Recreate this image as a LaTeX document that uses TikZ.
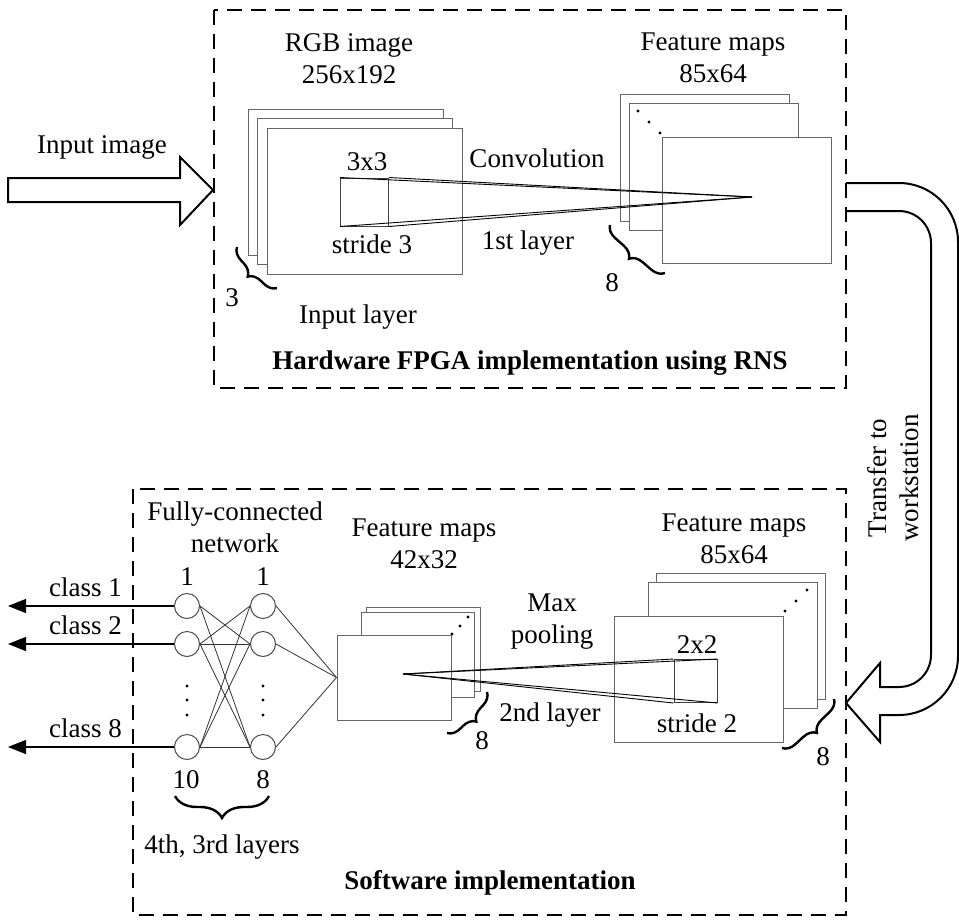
\documentclass[tikz,border=0pt]{standalone}
\usepackage{fontspec}
\setmainfont{Liberation Serif}
\usetikzlibrary{decorations.pathreplacing,arrows.meta}
\tikzset{
  txt/.style={inner sep=0pt,font=\fontsize{27}{32}\selectfont},
  title/.style={inner sep=0pt,font=\fontsize{27}{32}\selectfont\bfseries},
  region/.style={line width=2.2pt,dash pattern=on 15pt off 9pt},
  fmap/.style={draw=black!60,fill=white,line width=1pt},
  front/.style={fmap,rectangle,inner sep=0pt},
  kernel/.style={draw=black!75,line width=1pt,inner sep=0pt,minimum width=#1,minimum height=#1},
  cone/.style={line width=0.9pt},
  neuron/.style={circle,draw=black!70,line width=1pt,minimum size=25pt,inner sep=0pt},
  link/.style={draw=black!80,line width=0.8pt},
  classarrow/.style={line width=1.1pt,-{Triangle[length=18pt,width=14pt]}},
  curly/.style={decorate,decoration={brace,amplitude=#1},line width=2.4pt},
  curly/.default=13pt,
  bigarrow/.style={draw,line width=2pt,line join=miter}
}
\begin{document}
\begin{tikzpicture}[x=1pt,y=-1pt]
\useasboundingbox (0,0) rectangle (959,921);

\draw[region] (214,10) rectangle (846,388);
\draw[region] (133,489) rectangle (846,915);

% hardware part
\draw[bigarrow] (8,178) -- (180,178) -- (180,157) -- (213,190) -- (180,225) -- (180,202) -- (8,202) -- cycle;
\node[txt] (inimg) at (102,147) {Input image};

\foreach \d in {0,9.5} \draw[fmap] (248+\d,109+\d) rectangle +(195,146);
\node[front,minimum width=195,minimum height=146] (rgb) at (364.5,201) {};
\node[kernel=48] (k1) at (364.5,202) {};
\node[txt] (k1size) at (367,162) {3x3};
\node[txt] (k1stride) at (372,244) {stride 3};
\node[txt,align=center] (rgblbl) at (349,59) {RGB image\\256x192};
\node[txt] (inlayer) at (358,317) {Input layer};
\draw[curly] (277,288) -- (237,247);
\node[txt] (n3) at (232,298) {3};

\draw[fmap] (620,94) rectangle +(169,127);
\draw[fmap] (629,103) rectangle +(169,127);
\node[front,minimum width=169,minimum height=126] (fm1) at (746.5,200) {};
\foreach \p in {(638,111),(649,122),(660,133)} \fill \p circle (1.6);

\coordinate (c1) at (752,197);
\foreach \a in {north west,north east,south west,south east} \draw[cone] (k1.\a) -- (c1);

\node[txt] (conv) at (537,158) {Convolution};
\node[txt] (l1) at (528,243) {1st layer};
\node[txt,align=center] (fm1lbl) at (713,58) {Feature maps\\85x64};
\draw[curly] (665,273) -- (610,225);
\node[txt] (n8a) at (612,283) {8};
\node[title] (hw) at (530,363) {Hardware FPGA implementation using RNS};

% transfer
\draw[bigarrow] (846,183) -- (899,183) arc[start angle=-90,end angle=0,radius=59]
  -- (958,656) arc[start angle=0,end angle=90,radius=59]
  -- (880,715) -- (880,742) -- (846,703) -- (880,663) -- (880,687)
  -- (899,687) arc[start angle=90,end angle=0,radius=32]
  -- (931,243) arc[start angle=0,end angle=-90,radius=32] -- (846,211);
\node[txt,rotate=90,align=center] (xfer) at (893,478) {Transfer to\\workstation};

% software part
\node[txt,align=center] (fclbl) at (235,527) {Fully-connected\\network};
\foreach \x/\c in {187/a,263/b} \foreach \y/\r in {606/1,644/2,747/3} \node[neuron] (\c\r) at (\x,\y) {};
\foreach \x in {187,263} \foreach \y in {686,700,715} \fill (\x,\y) circle (1.6);
\node[txt] (top1) at (187,577) {1};
\node[txt] (top2) at (263,577) {1};
\node[txt] (cnt1) at (186,780) {10};
\node[txt] (cnt2) at (263,780) {8};
\foreach \i/\j in {1/2,1/3,2/1,2/2,2/3,3/1,3/2,3/3} \draw[link] (a\i.east) -- (b\j.west);
\foreach \r/\y/\t in {1/606/class 1,2/644/class 2,3/747/class 8} {
  \coordinate (out\r) at (8,\y);
  \draw[classarrow] (a\r.west) -- (out\r);
  \node[txt,anchor=east] (cls\r) at (122,\y-19) {\t};
}
\draw[curly=22pt] (269,796) -- (175,796);
\node[txt] (layers) at (222,847) {4th, 3rd layers};

\draw[fmap] (366,607) rectangle +(114,84);
\draw[fmap] (361,612) rectangle +(113,85);
\node[front,minimum width=114,minimum height=85] (m2) at (394,677.5) {};
\foreach \p in {(468,617),(460,626),(452,634)} \fill \p circle (1.6);
\foreach \i in {1,2,3} \draw[link] (b\i.east) -- (m2.west);
\node[txt,align=center] (fm2lbl) at (424,544) {Feature maps\\42x32};
\draw[curly] (487,692) -- (447,733);
\node[txt] (n8b) at (482,741) {8};

\draw[fmap] (656,573) rectangle +(169,126);
\draw[fmap] (648,582) rectangle +(169,126);
\node[front,minimum width=169,minimum height=126] (fm3) at (698.5,679) {};
\foreach \p in {(807,590),(796,601),(785,611)} \fill \p circle (1.6);
\node[kernel=43] (k2) at (695.5,681) {};
\coordinate (c2) at (403,674);
\foreach \a in {north west,north east,south west,south east} \draw[cone] (k2.\a) -- (c2);
\node[txt] (k2size) at (697,645) {2x2};
\node[txt] (k2stride) at (697,723) {stride 2};
\node[txt,align=center] (fm3lbl) at (734,539) {Feature maps\\85x64};
\draw[curly] (834,699) -- (782,748);
\node[txt] (n8c) at (823,757) {8};
\node[txt,align=center] (pool) at (552,622) {Max\\pooling};
\node[txt] (l2) at (550,715) {2nd layer};
\node[title] (sw) at (490,883) {Software implementation};
\end{tikzpicture}
\end{document}
